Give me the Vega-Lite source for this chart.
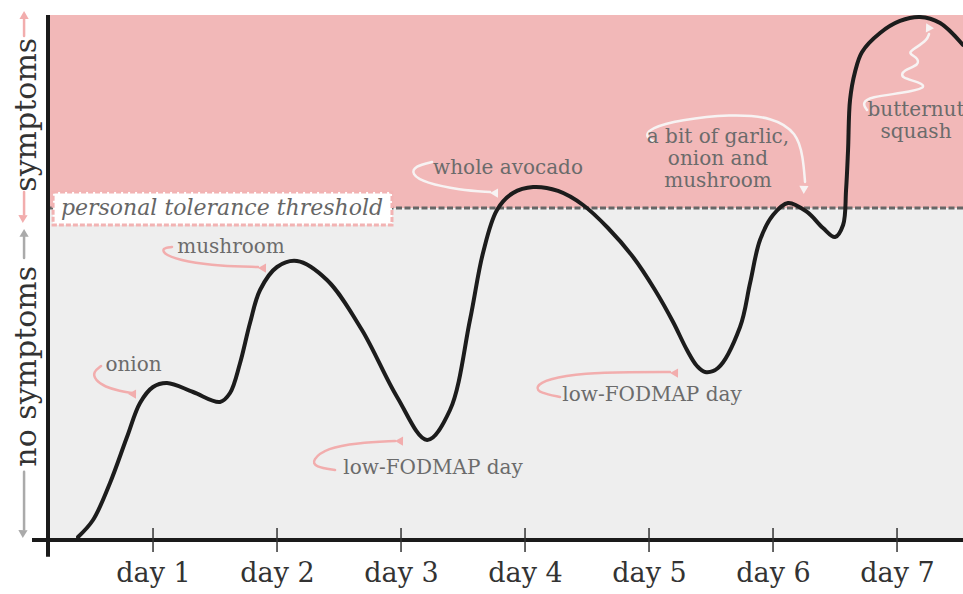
{
  "$schema": "https://vega.github.io/schema/vega-lite/v6.json",
  "width": 915,
  "height": 525,
  "autosize": {"type": "none"},
  "padding": {"left": 48, "top": 15, "right": 0, "bottom": 54},
  "background": "white",
  "config": {"view": {"stroke": null}, "font": "DejaVu Serif"},
  "datasets": {
    "zones": [
      {"zone": "symptoms", "lo": 6.324, "hi": 10},
      {"zone": "no symptoms", "lo": 0, "hi": 6.324}
    ],
    "curve": [
      {"day": 0.395, "level": 0.057}, {"day": 0.516, "level": 0.381}, {"day": 0.653, "level": 1.086},
      {"day": 0.790, "level": 1.962}, {"day": 0.895, "level": 2.610}, {"day": 1.0, "level": 2.914},
      {"day": 1.113, "level": 2.990}, {"day": 1.323, "level": 2.819}, {"day": 1.540, "level": 2.629},
      {"day": 1.621, "level": 2.8}, {"day": 1.702, "level": 3.371}, {"day": 1.782, "level": 4.133},
      {"day": 1.863, "level": 4.762}, {"day": 2.0, "level": 5.2}, {"day": 2.161, "level": 5.314},
      {"day": 2.403, "level": 4.952}, {"day": 2.685, "level": 4.0}, {"day": 2.968, "level": 2.724},
      {"day": 3.210, "level": 1.905}, {"day": 3.395, "level": 2.476}, {"day": 3.556, "level": 4.190},
      {"day": 3.661, "level": 5.467}, {"day": 3.774, "level": 6.286}, {"day": 3.903, "level": 6.610},
      {"day": 4.065, "level": 6.724}, {"day": 4.266, "level": 6.648}, {"day": 4.468, "level": 6.381},
      {"day": 4.669, "level": 5.943}, {"day": 4.871, "level": 5.390}, {"day": 5.048, "level": 4.762},
      {"day": 5.194, "level": 4.152}, {"day": 5.306, "level": 3.619}, {"day": 5.387, "level": 3.314},
      {"day": 5.452, "level": 3.2}, {"day": 5.556, "level": 3.276}, {"day": 5.734, "level": 4.057},
      {"day": 5.815, "level": 4.895}, {"day": 5.895, "level": 5.714}, {"day": 6.0, "level": 6.190},
      {"day": 6.121, "level": 6.419}, {"day": 6.274, "level": 6.248}, {"day": 6.403, "level": 5.943},
      {"day": 6.5, "level": 5.771}, {"day": 6.565, "level": 6.0}, {"day": 6.589, "level": 6.667},
      {"day": 6.605, "level": 7.429}, {"day": 6.621, "level": 8.381}, {"day": 6.661, "level": 8.914},
      {"day": 6.718, "level": 9.295}, {"day": 6.863, "level": 9.657}, {"day": 7.024, "level": 9.886},
      {"day": 7.185, "level": 9.962}, {"day": 7.347, "level": 9.848}, {"day": 7.532, "level": 9.429}
    ],
    "arrows": [
      {"id": "onion", "kind": "pink", "i": 0, "day": 0.581, "level": 3.314},
      {"id": "onion", "kind": "pink", "i": 1, "day": 0.516, "level": 3.2},
      {"id": "onion", "kind": "pink", "i": 2, "day": 0.532, "level": 3.048},
      {"id": "onion", "kind": "pink", "i": 3, "day": 0.613, "level": 2.914},
      {"id": "onion", "kind": "pink", "i": 4, "day": 0.734, "level": 2.838},
      {"id": "onion", "kind": "pink", "i": 5, "day": 0.831, "level": 2.8},
      {"id": "mushroom", "kind": "pink", "i": 0, "day": 1.153, "level": 5.581},
      {"id": "mushroom", "kind": "pink", "i": 1, "day": 1.073, "level": 5.562},
      {"id": "mushroom", "kind": "pink", "i": 2, "day": 1.089, "level": 5.429},
      {"id": "mushroom", "kind": "pink", "i": 3, "day": 1.274, "level": 5.295},
      {"id": "mushroom", "kind": "pink", "i": 4, "day": 1.540, "level": 5.219},
      {"id": "mushroom", "kind": "pink", "i": 5, "day": 1.847, "level": 5.2},
      {"id": "low1", "kind": "pink", "i": 0, "day": 2.468, "level": 1.333},
      {"id": "low1", "kind": "pink", "i": 1, "day": 2.306, "level": 1.39},
      {"id": "low1", "kind": "pink", "i": 2, "day": 2.282, "level": 1.524},
      {"id": "low1", "kind": "pink", "i": 3, "day": 2.403, "level": 1.752},
      {"id": "low1", "kind": "pink", "i": 4, "day": 2.645, "level": 1.848},
      {"id": "low1", "kind": "pink", "i": 5, "day": 2.952, "level": 1.886},
      {"id": "avocado", "kind": "pale", "i": 0, "day": 3.25, "level": 7.2},
      {"id": "avocado", "kind": "pale", "i": 1, "day": 3.113, "level": 7.124},
      {"id": "avocado", "kind": "pale", "i": 2, "day": 3.081, "level": 6.971},
      {"id": "avocado", "kind": "pale", "i": 3, "day": 3.194, "level": 6.8},
      {"id": "avocado", "kind": "pale", "i": 4, "day": 3.476, "level": 6.667},
      {"id": "avocado", "kind": "pale", "i": 5, "day": 3.718, "level": 6.629},
      {"id": "low2", "kind": "pink", "i": 0, "day": 4.282, "level": 2.724},
      {"id": "low2", "kind": "pink", "i": 1, "day": 4.121, "level": 2.8},
      {"id": "low2", "kind": "pink", "i": 2, "day": 4.081, "level": 2.914},
      {"id": "low2", "kind": "pink", "i": 3, "day": 4.177, "level": 3.067},
      {"id": "low2", "kind": "pink", "i": 4, "day": 4.484, "level": 3.181},
      {"id": "low2", "kind": "pink", "i": 5, "day": 4.847, "level": 3.2},
      {"id": "low2", "kind": "pink", "i": 6, "day": 5.169, "level": 3.2},
      {"id": "garlic", "kind": "pale", "i": 0, "day": 5.048, "level": 7.581},
      {"id": "garlic", "kind": "pale", "i": 1, "day": 4.968, "level": 7.676},
      {"id": "garlic", "kind": "pale", "i": 2, "day": 5.008, "level": 7.848},
      {"id": "garlic", "kind": "pale", "i": 3, "day": 5.25, "level": 8.0},
      {"id": "garlic", "kind": "pale", "i": 4, "day": 5.653, "level": 8.114},
      {"id": "garlic", "kind": "pale", "i": 5, "day": 6.0, "level": 8.057},
      {"id": "garlic", "kind": "pale", "i": 6, "day": 6.194, "level": 7.752},
      {"id": "garlic", "kind": "pale", "i": 7, "day": 6.242, "level": 7.295},
      {"id": "garlic", "kind": "pale", "i": 8, "day": 6.258, "level": 6.819},
      {"id": "squash", "kind": "pale", "i": 0, "day": 6.758, "level": 8.19},
      {"id": "squash", "kind": "pale", "i": 1, "day": 6.718, "level": 8.324},
      {"id": "squash", "kind": "pale", "i": 2, "day": 6.782, "level": 8.438},
      {"id": "squash", "kind": "pale", "i": 3, "day": 7.048, "level": 8.514},
      {"id": "squash", "kind": "pale", "i": 4, "day": 7.242, "level": 8.610},
      {"id": "squash", "kind": "pale", "i": 5, "day": 7.185, "level": 8.724},
      {"id": "squash", "kind": "pale", "i": 6, "day": 7.024, "level": 8.8},
      {"id": "squash", "kind": "pale", "i": 7, "day": 7.048, "level": 8.952},
      {"id": "squash", "kind": "pale", "i": 8, "day": 7.185, "level": 9.048},
      {"id": "squash", "kind": "pale", "i": 9, "day": 7.161, "level": 9.2},
      {"id": "squash", "kind": "pale", "i": 10, "day": 7.081, "level": 9.276},
      {"id": "squash", "kind": "pale", "i": 11, "day": 7.161, "level": 9.390},
      {"id": "squash", "kind": "pale", "i": 12, "day": 7.242, "level": 9.524},
      {"id": "squash", "kind": "pale", "i": 13, "day": 7.258, "level": 9.638},
      {"id": "sym-up", "kind": "pink", "i": 0, "day": -0.040, "level": 9.6},
      {"id": "sym-up", "kind": "pink", "i": 1, "day": -0.040, "level": 9.95},
      {"id": "sym-down", "kind": "pink", "i": 0, "day": -0.040, "level": 6.63},
      {"id": "sym-down", "kind": "pink", "i": 1, "day": -0.040, "level": 6.2},
      {"id": "no-up", "kind": "grey", "i": 0, "day": -0.040, "level": 5.37},
      {"id": "no-up", "kind": "grey", "i": 1, "day": -0.040, "level": 5.85},
      {"id": "no-down", "kind": "grey", "i": 0, "day": -0.040, "level": 1.30},
      {"id": "no-down", "kind": "grey", "i": 1, "day": -0.040, "level": 0.2}
    ],
    "heads": [
      {"kind": "pink", "dir": "right", "day": 0.847, "level": 2.8},
      {"kind": "pink", "dir": "right", "day": 1.895, "level": 5.2},
      {"kind": "pink", "dir": "right", "day": 3.0, "level": 1.905},
      {"kind": "pale", "dir": "right", "day": 3.766, "level": 6.629},
      {"kind": "pink", "dir": "right", "day": 5.218, "level": 3.2},
      {"kind": "pale", "dir": "down", "day": 6.258, "level": 6.705},
      {"kind": "pale", "dir": "upright", "day": 7.266, "level": 9.752},
      {"kind": "pink", "dir": "up", "day": -0.040, "level": 10.0},
      {"kind": "pink", "dir": "down", "day": -0.040, "level": 6.15},
      {"kind": "grey", "dir": "up", "day": -0.040, "level": 5.85},
      {"kind": "grey", "dir": "down", "day": -0.040, "level": 0.15}
    ],
    "notes": [
      {"note": "onion", "day": 0.843, "level": 3.333},
      {"note": "mushroom", "day": 1.629, "level": 5.581},
      {"note": "low-FODMAP day", "day": 3.258, "level": 1.371},
      {"note": "whole avocado", "day": 3.863, "level": 7.086},
      {"note": "low-FODMAP day", "day": 5.024, "level": 2.762},
      {"note": "a bit of garlic,\nonion and\nmushroom", "day": 5.556, "level": 7.676},
      {"note": "butternut\nsquash", "day": 7.153, "level": 8.19}
    ],
    "sides": [
      {"label": "symptoms", "level": 8.10},
      {"label": "no symptoms", "level": 3.31}
    ],
    "days": [
      {"day": 1}, {"day": 2}, {"day": 3}, {"day": 4}, {"day": 5}, {"day": 6}, {"day": 7}
    ]
  },
  "layer": [
    {
      "data": {"name": "zones"},
      "mark": {"type": "rect"},
      "encoding": {
        "y": {"field": "lo", "type": "quantitative", "scale": {"domain": [0, 10], "nice": false, "zero": false}, "axis": null},
        "y2": {"field": "hi"},
        "fill": {"field": "zone", "type": "nominal", "scale": {"domain": ["symptoms", "no symptoms"], "range": ["#f2b8b8", "#eeeeee"]}, "legend": null}
      }
    },
    {
      "data": {"values": [{}]},
      "mark": {"type": "rule", "color": "#666666", "strokeWidth": 3, "strokeDash": [6, 2.5]},
      "encoding": {
        "y": {"datum": 6.324, "type": "quantitative", "scale": {"domain": [0, 10], "nice": false, "zero": false}, "axis": null}
      }
    },
    {
      "data": {"values": [{}]},
      "mark": {"type": "rect", "fill": "white", "stroke": "#f2b3b3", "strokeWidth": 3, "strokeDash": [5, 2]},
      "encoding": {
        "x": {"datum": 0.194, "type": "quantitative", "scale": {"domain": [0.153, 7.532], "nice": false, "zero": false},
          "axis": {"values": [1, 2, 3, 4, 5, 6, 7], "labelExpr": "'day ' + datum.value", "domain": false, "ticks": false, "grid": false, "title": null, "labelFont": "DejaVu Serif", "labelFontSize": 27, "labelColor": "#333333", "labelPadding": 20}},
        "x2": {"datum": 2.927},
        "y": {"datum": 6.0, "type": "quantitative", "scale": {"domain": [0, 10], "nice": false, "zero": false}, "axis": null},
        "y2": {"datum": 6.629}
      }
    },
    {
      "data": {"values": [{"label": "personal tolerance threshold", "day": 1.556, "level": 6.324}]},
      "mark": {"type": "text", "font": "DejaVu Serif", "fontStyle": "italic", "fontSize": 22, "color": "#666666", "align": "center", "baseline": "middle"},
      "encoding": {
        "x": {"field": "day", "type": "quantitative", "scale": {"domain": [0.153, 7.532], "nice": false, "zero": false},
          "axis": {"values": [1, 2, 3, 4, 5, 6, 7], "labelExpr": "'day ' + datum.value", "domain": false, "ticks": false, "grid": false, "title": null, "labelFont": "DejaVu Serif", "labelFontSize": 27, "labelColor": "#333333", "labelPadding": 20}},
        "y": {"field": "level", "type": "quantitative", "scale": {"domain": [0, 10], "nice": false, "zero": false}, "axis": null},
        "text": {"field": "label"}
      }
    },
    {
      "data": {"name": "arrows"},
      "mark": {"type": "line", "interpolate": "basis", "strokeWidth": 2.5, "strokeCap": "round"},
      "encoding": {
        "x": {"field": "day", "type": "quantitative", "scale": {"domain": [0.153, 7.532], "nice": false, "zero": false},
          "axis": {"values": [1, 2, 3, 4, 5, 6, 7], "labelExpr": "'day ' + datum.value", "domain": false, "ticks": false, "grid": false, "title": null, "labelFont": "DejaVu Serif", "labelFontSize": 27, "labelColor": "#333333", "labelPadding": 20}},
        "y": {"field": "level", "type": "quantitative", "scale": {"domain": [0, 10], "nice": false, "zero": false}, "axis": null},
        "detail": {"field": "id"},
        "order": {"field": "i", "type": "quantitative"},
        "stroke": {"field": "kind", "type": "nominal", "scale": {"domain": ["pink", "pale", "grey"], "range": ["#f2adad", "#f7f3f3", "#aaaaaa"]}, "legend": null}
      }
    },
    {
      "data": {"name": "heads"},
      "mark": {"type": "point", "shape": "triangle-up", "filled": true, "size": 85, "opacity": 1},
      "encoding": {
        "x": {"field": "day", "type": "quantitative", "scale": {"domain": [0.153, 7.532], "nice": false, "zero": false},
          "axis": {"values": [1, 2, 3, 4, 5, 6, 7], "labelExpr": "'day ' + datum.value", "domain": false, "ticks": false, "grid": false, "title": null, "labelFont": "DejaVu Serif", "labelFontSize": 27, "labelColor": "#333333", "labelPadding": 20}},
        "y": {"field": "level", "type": "quantitative", "scale": {"domain": [0, 10], "nice": false, "zero": false}, "axis": null},
        "angle": {"field": "dir", "type": "nominal", "scale": {"domain": ["up", "right", "down", "upright"], "range": [0, 92, 180, 14]}, "legend": null},
        "color": {"field": "kind", "type": "nominal", "scale": {"domain": ["pink", "pale", "grey"], "range": ["#f2adad", "#f7f3f3", "#aaaaaa"]}, "legend": null}
      }
    },
    {
      "data": {"name": "curve"},
      "mark": {"type": "line", "interpolate": "catmull-rom", "color": "#1c1c1c", "strokeWidth": 4, "strokeCap": "round"},
      "encoding": {
        "x": {"field": "day", "type": "quantitative", "scale": {"domain": [0.153, 7.532], "nice": false, "zero": false},
          "axis": {"values": [1, 2, 3, 4, 5, 6, 7], "labelExpr": "'day ' + datum.value", "domain": false, "ticks": false, "grid": false, "title": null, "labelFont": "DejaVu Serif", "labelFontSize": 27, "labelColor": "#333333", "labelPadding": 20}},
        "y": {"field": "level", "type": "quantitative", "scale": {"domain": [0, 10], "nice": false, "zero": false}, "axis": null}
      }
    },
    {
      "data": {"name": "notes"},
      "mark": {"type": "text", "font": "DejaVu Serif", "fontSize": 20, "color": "#6b6b6b", "align": "center", "baseline": "middle", "lineBreak": "\n", "lineHeight": 22},
      "encoding": {
        "x": {"field": "day", "type": "quantitative", "scale": {"domain": [0.153, 7.532], "nice": false, "zero": false},
          "axis": {"values": [1, 2, 3, 4, 5, 6, 7], "labelExpr": "'day ' + datum.value", "domain": false, "ticks": false, "grid": false, "title": null, "labelFont": "DejaVu Serif", "labelFontSize": 27, "labelColor": "#333333", "labelPadding": 20}},
        "y": {"field": "level", "type": "quantitative", "scale": {"domain": [0, 10], "nice": false, "zero": false}, "axis": null},
        "text": {"field": "note"}
      }
    },
    {
      "data": {"values": [{}]},
      "mark": {"type": "rule", "color": "#1a1a1a", "strokeWidth": 4},
      "encoding": {
        "x": {"datum": 0.024, "type": "quantitative", "scale": {"domain": [0.153, 7.532], "nice": false, "zero": false},
          "axis": {"values": [1, 2, 3, 4, 5, 6, 7], "labelExpr": "'day ' + datum.value", "domain": false, "ticks": false, "grid": false, "title": null, "labelFont": "DejaVu Serif", "labelFontSize": 27, "labelColor": "#333333", "labelPadding": 20}},
        "x2": {"datum": 7.532},
        "y": {"datum": 0, "type": "quantitative", "scale": {"domain": [0, 10], "nice": false, "zero": false}, "axis": null}
      }
    },
    {
      "data": {"values": [{}]},
      "mark": {"type": "rule", "color": "#1a1a1a", "strokeWidth": 4},
      "encoding": {
        "x": {"datum": 0.153, "type": "quantitative", "scale": {"domain": [0.153, 7.532], "nice": false, "zero": false},
          "axis": {"values": [1, 2, 3, 4, 5, 6, 7], "labelExpr": "'day ' + datum.value", "domain": false, "ticks": false, "grid": false, "title": null, "labelFont": "DejaVu Serif", "labelFontSize": 27, "labelColor": "#333333", "labelPadding": 20}},
        "y": {"datum": -0.32, "type": "quantitative", "scale": {"domain": [0, 10], "nice": false, "zero": false}, "axis": null},
        "y2": {"datum": 10}
      }
    },
    {
      "data": {"name": "days"},
      "mark": {"type": "rule", "color": "#333333", "strokeWidth": 1.5},
      "encoding": {
        "x": {"field": "day", "type": "quantitative", "scale": {"domain": [0.153, 7.532], "nice": false, "zero": false},
          "axis": {"values": [1, 2, 3, 4, 5, 6, 7], "labelExpr": "'day ' + datum.value", "domain": false, "ticks": false, "grid": false, "title": null, "labelFont": "DejaVu Serif", "labelFontSize": 27, "labelColor": "#333333", "labelPadding": 20}},
        "y": {"datum": -0.23, "type": "quantitative", "scale": {"domain": [0, 10], "nice": false, "zero": false}, "axis": null},
        "y2": {"datum": 0.23}
      }
    },
    {
      "data": {"name": "sides"},
      "mark": {"type": "text", "font": "DejaVu Serif", "fontSize": 30, "color": "#333333", "angle": 270, "align": "center", "baseline": "middle"},
      "encoding": {
        "x": {"datum": -0.016, "type": "quantitative", "scale": {"domain": [0.153, 7.532], "nice": false, "zero": false},
          "axis": {"values": [1, 2, 3, 4, 5, 6, 7], "labelExpr": "'day ' + datum.value", "domain": false, "ticks": false, "grid": false, "title": null, "labelFont": "DejaVu Serif", "labelFontSize": 27, "labelColor": "#333333", "labelPadding": 20}},
        "y": {"field": "level", "type": "quantitative", "scale": {"domain": [0, 10], "nice": false, "zero": false}, "axis": null},
        "text": {"field": "label"}
      }
    }
  ]
}
